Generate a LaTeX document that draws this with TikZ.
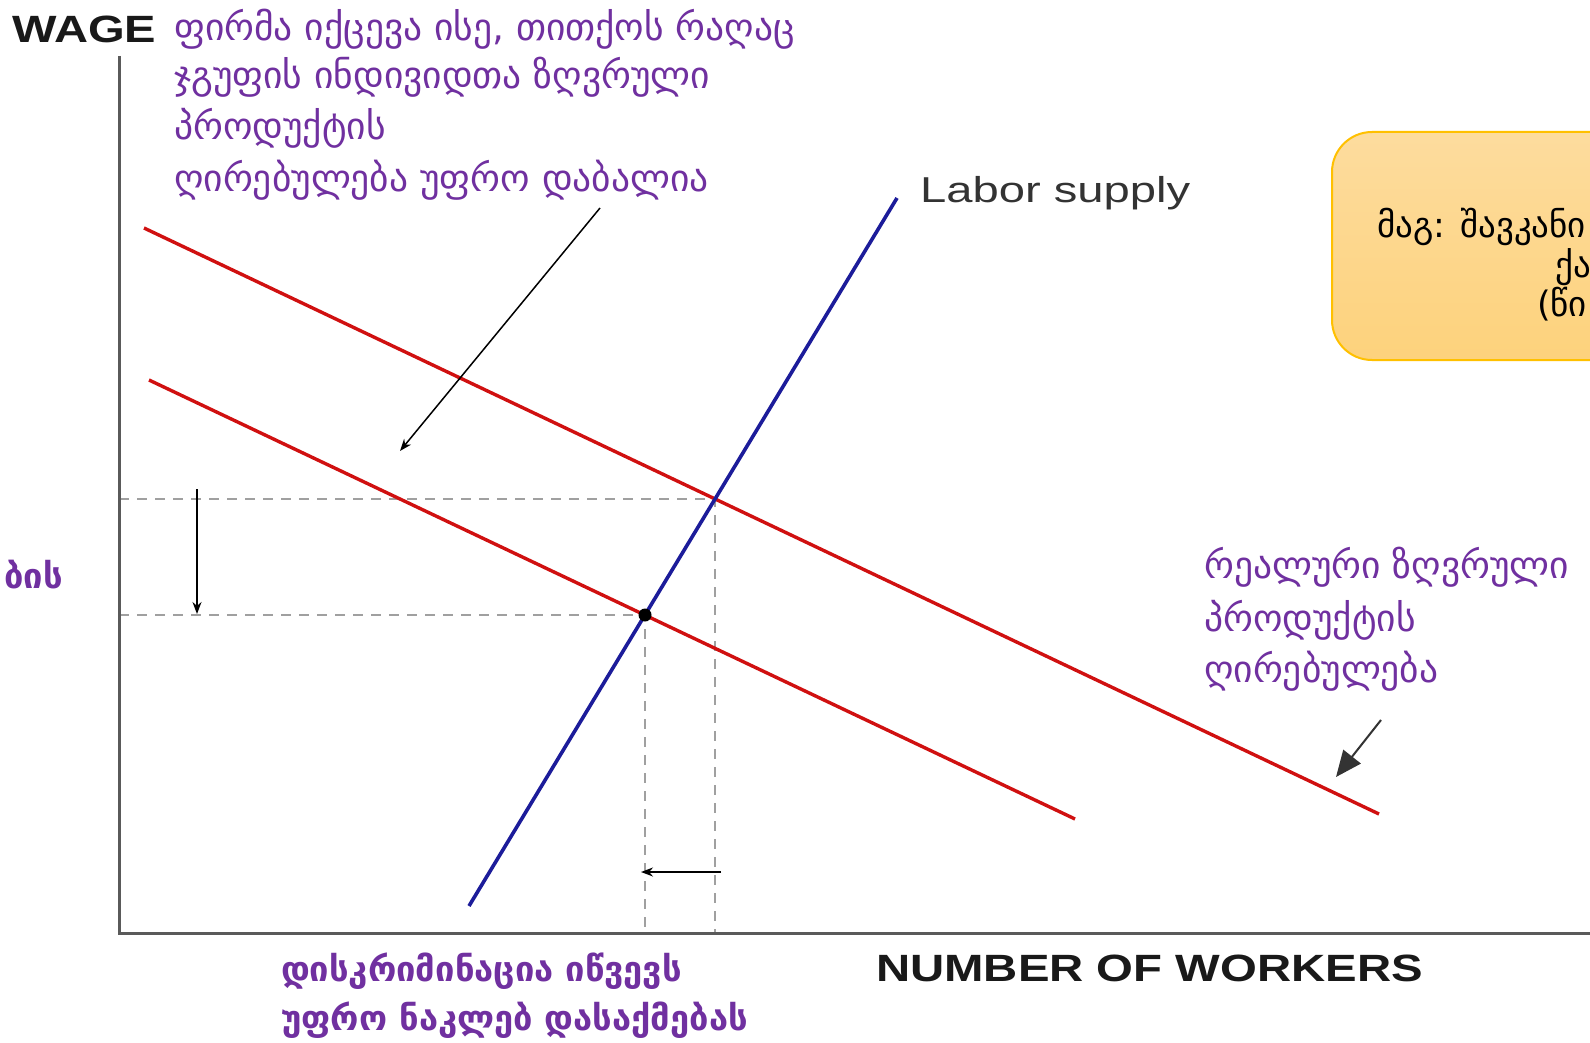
\documentclass[tikz,border=0pt]{standalone}
\usepackage{fontspec}
\setmainfont{Liberation Sans}
\newfontfamily\geo{DejaVu Sans}
\usetikzlibrary{arrows.meta}
\definecolor{purp}{HTML}{7030A0}
\definecolor{axisgray}{HTML}{5A5A5A}
\definecolor{dashgray}{HTML}{A0A0A0}
\definecolor{redline}{HTML}{D01010}
\definecolor{blueline}{HTML}{1C1C9A}
\definecolor{boxedge}{HTML}{FFC000}
\definecolor{boxtop}{HTML}{FDDC9E}
\definecolor{boxbot}{HTML}{FDD27C}
\tikzset{
  axisline/.style={draw=axisgray, line width=3pt},
  guide/.style={draw=dashgray, line width=2pt, dash pattern=on 10pt off 8pt},
  mrp/.style={draw=redline, line width=3.4pt},
  supply/.style={draw=blueline, line width=3.6pt},
  thinarrow/.style={draw=black, line width=1.5pt, -{Stealth[length=12pt,width=9pt]}},
  bigarrow/.style={draw=black!80, line width=2pt, -{Triangle[length=26pt,width=22pt]}},
  geotext/.style={text=purp, font=\geo\fontsize{37.5}{42}\selectfont, anchor=base west, inner sep=0pt},
  geobold/.style={text=purp, font=\geo\bfseries\fontsize{34.5}{40}\selectfont, anchor=base west, inner sep=0pt},
  boxtext/.style={text=black, font=\geo\fontsize{35}{40}\selectfont, anchor=base west, inner sep=0pt},
  axislabel/.style={text=black!90, font=\bfseries\fontsize{38}{44}\selectfont, inner sep=0pt}
}
\begin{document}
\begin{tikzpicture}[x=1pt,y=-1pt]
\useasboundingbox (0,0) rectangle (1590,1043);
\clip (0,0) rectangle (1590,1043);
\fill[white] (0,0) rectangle (1590,1043);

% coordinates
\coordinate (origin) at (119,933);
\coordinate (ytop) at (119,56);
\coordinate (xend) at (1600,933);
\coordinate (sA) at (469,906);
\coordinate (sB) at (897,198);
\coordinate (uA) at (144,228);
\coordinate (uB) at (1379,814);
\coordinate (lA) at (149,380);
\coordinate (lB) at (1075,819);
\coordinate (eq1) at (715,499);
\coordinate (eq2) at (645,615);
\coordinate (y1) at (119,499);
\coordinate (y2) at (119,615);
\coordinate (x1) at (715,933);
\coordinate (x2) at (645,933);

% guides
\draw[guide] (y1) -- (eq1) -- (x1);
\draw[guide] (y2) -- (eq2) -- (x2);

% axes
\draw[axisline] (ytop) -- (origin) -- (xend);

% curves
\draw[mrp] (uA) -- (uB);
\draw[mrp] (lA) -- (lB);
\draw[supply] (sA) -- (sB);
\fill[black] (eq2) circle (6.5pt);

% small arrows
\coordinate (dA) at (197,489);
\coordinate (dB) at (197,614);
\draw[thinarrow] (dA) -- (dB);
\coordinate (hA) at (721,872);
\coordinate (hB) at (641,872);
\draw[thinarrow] (hA) -- (hB);

% axis labels
\node[axislabel, anchor=west] (wage) at (12,29) {\scalebox{1.24}[1]{WAGE}};
\node[axislabel, anchor=west] (nworkers) at (876,968) {\scalebox{1.245}[1]{NUMBER OF WORKERS}};
\node[text=black!80, font=\fontsize{36}{40}\selectfont, inner sep=0pt, anchor=west] (lsupply) at (920,193) {\scalebox{1.31}[1]{Labor supply}};

% top text
\node[geotext] (t1) at (174,41) {ფირმა იქცევა ისე, თითქოს რაღაც};
\node[geotext] (t2) at (174,89) {ჯგუფის ინდივიდთა ზღვრული};
\node[geotext] (t3) at (174,140) {პროდუქტის};
\node[geotext] (t4) at (174,192) {ღირებულება უფრო დაბალია};
\coordinate (tA) at (600,208);
\coordinate (tB) at (400,451);
\draw[thinarrow] (tA) -- (tB);

% right text
\node[geotext] (r1) at (1204,578) {რეალური ზღვრული};
\node[geotext] (r2) at (1204,631) {პროდუქტის};
\node[geotext] (r3) at (1204,682) {ღირებულება};
\coordinate (rA) at (1381,720);
\coordinate (rB) at (1336,777);
\draw[bigarrow] (rA) -- (rB);

% bottom text
\node[geobold] (b1) at (281,981) {დისკრიმინაცია იწვევს};
\node[geobold] (b2) at (281,1030) {უფრო ნაკლებ დასაქმებას};

% left clipped text
\node[geobold, anchor=base east] (l1) at (63,588) {ბის};

% box
\path[draw=boxedge, line width=2pt, rounded corners=40pt, top color=boxtop, bottom color=boxbot] (1332,132) rectangle (1720,360);
\node[boxtext] (m1) at (1377,237) {მაგ: შავკანი};
\node[boxtext] (m2) at (1555,277) {ქა};
\node[boxtext] (m3) at (1537,316) {(წი};
\end{tikzpicture}
\end{document}
